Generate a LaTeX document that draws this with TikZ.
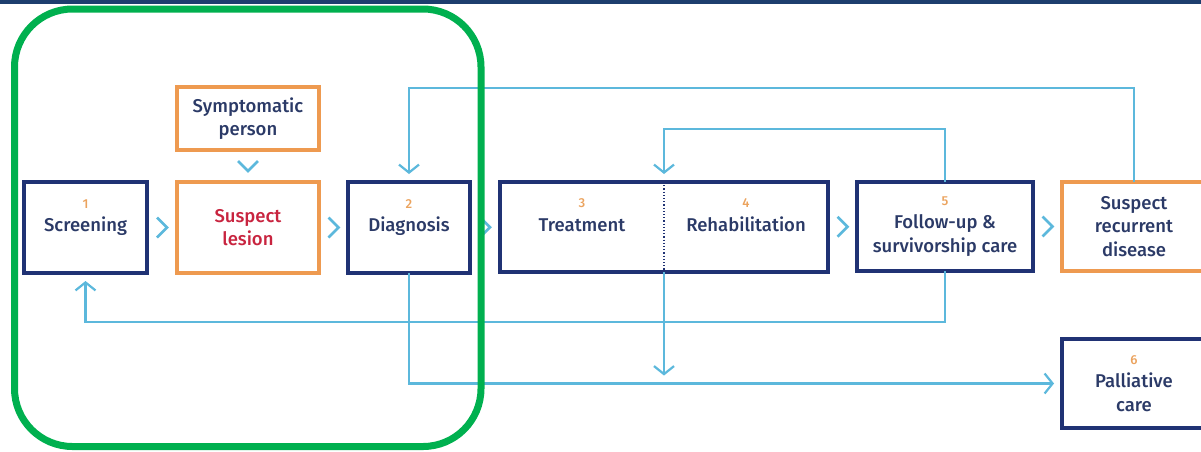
\documentclass[tikz,border=0pt]{standalone}
\usepackage{fontspec}
\setmainfont{Fira Sans}[UprightFont=* Medium, BoldFont=* Bold]
\usetikzlibrary{arrows.meta,positioning,calc}
\definecolor{stageNavy}{HTML}{203274}
\definecolor{stageText}{HTML}{2B3A67}
\definecolor{stageNum}{HTML}{EBA35E}
\definecolor{suspectOrange}{HTML}{EE9A50}
\definecolor{lesionRed}{HTML}{C8243F}
\definecolor{flowBlue}{HTML}{5CB8DC}
\definecolor{frameGreen}{HTML}{00B04F}
\definecolor{topBar}{HTML}{1D3E6E}
\newcommand{\stagenum}[1]{{\fontsize{13}{23}\selectfont\color{stageNum}#1}}

\begin{document}
\begin{tikzpicture}[x=1pt,y=-1pt]
		\tikzset{
			box/.style=
			{line width=4pt, inner sep=0pt, outer sep=0pt, align=center, text=stageText, font=\fontsize{18.5}{23.5}\selectfont},
			stage box/.style=
			{box, draw=stageNavy},
			suspect box/.style=
			{box, draw=suspectOrange},
			flow/.style=
			{draw=flowBlue, line width=2.2pt},
			flow arrow/.style=
			{flow, -{Straight Barb[length=8pt,width=20pt]}},
			chevron/.pic=
			{\draw[flow, line width=2.6pt] (-5,-10) -- (5,0) -- (-5,10);},
		}
		\useasboundingbox (0,0) rectangle (1201,451);
		\fill[topBar] (0,0) rectangle (1201,3.5);
		% stages
		\node[stage box, minimum width=123pt, minimum height=91pt] (scr) at (85.5,227.5) {\stagenum{1}\\Screening\\~};
		\node[suspect box, minimum width=142pt, minimum height=63pt] (sym) at (248,118.5) {Symptomatic\\person};
		\node[suspect box, minimum width=142pt, minimum height=91pt, text=lesionRed] (les) at (248,227.5) {Suspect\\lesion};
		\node[stage box, minimum width=122pt, minimum height=91pt] (dia) at (409,227.5) {\stagenum{2}\\Diagnosis\\~};
		\node[box, minimum width=164pt, minimum height=90pt] (trt) at (582,227) {\stagenum{3}\\Treatment\\~};
		\node[box, minimum width=164pt, minimum height=90pt, right=0pt of trt] (reh) {\stagenum{4}\\Rehabilitation\\~};
		\draw[stageNavy, line width=4pt] (trt.north west) rectangle (reh.south east);
		\draw[stageNavy, line width=1.2pt, dotted] (trt.north east) -- (trt.south east);
		\node[stage box, minimum width=176pt, minimum height=89pt] (fol) at (945,226.5) {\stagenum{5}\\Follow-up \&\\survivorship care};
		\node[suspect box, minimum width=144pt, minimum height=89pt] (rec) at (1134,226.5) {Suspect\\recurrent\\disease};
		\node[stage box, minimum width=144pt, minimum height=89pt] (pal) at (1134,383.5) {\stagenum{6}\\Palliative\\care};
		% chevrons between stages
		\pic at ($(scr.east)!.5!(les.west)$) {chevron};
		\pic at ($(les.east)!.5!(dia.west)$) {chevron};
		\pic at ($(dia.east)!.5!(trt.west)$) {chevron};
		\pic at ($(reh.east)!.5!(fol.west)$) {chevron};
		\pic at ($(fol.east)!.5!(rec.west)$) {chevron};
		\pic[rotate=-90] at ($(sym.south)!.5!(les.north)$) {chevron};
		% loops
		\coordinate (topRun) at (0,88);
		\coordinate (midRun) at (0,129);
		\coordinate (backRun) at (0,322);
		\draw[flow arrow] (rec.north) -- (rec.north |- topRun) -- (dia.north |- topRun) -- ([yshift=8pt]dia.north);
		\draw[flow arrow] (fol.north) -- (fol.north |- midRun) -- (trt.north east |- midRun) -- ([yshift=8pt]trt.north east);
		\draw[flow arrow] (fol.south) -- (fol.south |- backRun) -- (scr.south |- backRun) -- ([yshift=-8pt]scr.south);
		\draw[flow arrow] (dia.south) -- (dia.south |- pal.west) -- ([xshift=-8pt]pal.west);
		\draw[flow arrow] (trt.south east) -- ([yshift=8pt]trt.south east |- pal.west);
		\draw[frameGreen, line width=7pt, rounded corners=58pt] (14.5,9) rectangle (481,446.5);
\end{tikzpicture}
\end{document}
